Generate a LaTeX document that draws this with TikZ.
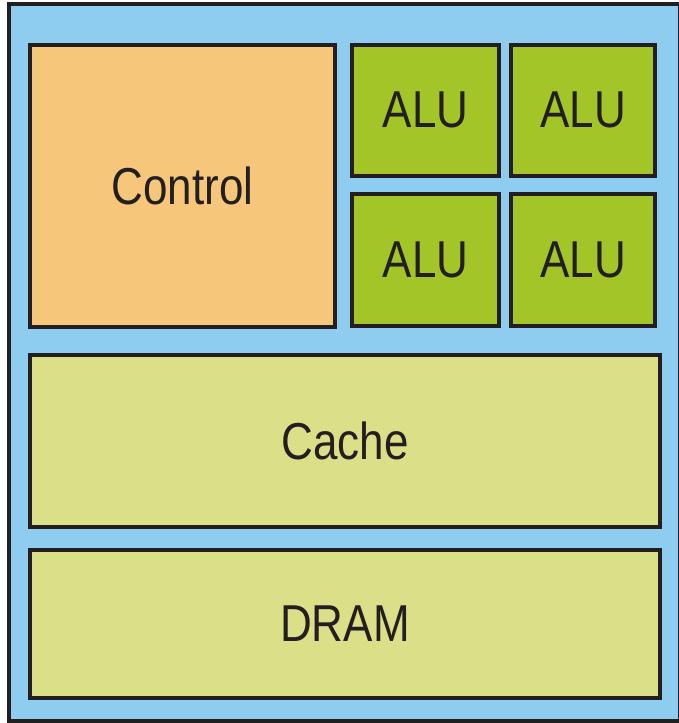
\documentclass[tikz,border=0pt]{standalone}
\usepackage{fontspec}
\setmainfont{Liberation Sans}
\definecolor{frameblue}{RGB}{142,205,240}
\definecolor{ctrlorange}{RGB}{246,199,122}
\definecolor{alugreen}{RGB}{164,197,40}
\definecolor{memyellow}{RGB}{219,223,135}
\definecolor{edgedark}{RGB}{35,31,32}
\tikzset{
  unitbox/.style={draw=edgedark, line width=4pt, inner sep=0pt, outer sep=0pt,
    font=\fontsize{44}{44}\selectfont, text=edgedark},
  frame/.style={draw=edgedark, line width=4pt, fill=frameblue, inner sep=0pt, outer sep=0pt}
}
\newcommand{\tallt}[1]{\scalebox{1}[1.18]{#1}}
\begin{document}
\begin{tikzpicture}[x=1pt,y=-1pt]
\useasboundingbox (0,0) rectangle (679,723);
\fill[white] (0,0) rectangle (679,723);
\begin{scope}
\clip (0,0) rectangle (679,723);
\node[frame, minimum width=671pt, minimum height=717pt] (outer) at (344.5,362.5) {};
\end{scope}
\node[unitbox, fill=ctrlorange, minimum width=305pt, minimum height=282pt] (control) at (182.5,186) {\tallt{Control}};
\node[unitbox, fill=alugreen, minimum width=147pt, minimum height=131pt] (alu1) at (425.5,110) {\tallt{ALU}};
\node[unitbox, fill=alugreen, minimum width=144pt, minimum height=131pt] (alu2) at (583,110) {\tallt{ALU}};
\node[unitbox, fill=alugreen, minimum width=147pt, minimum height=132pt] (alu3) at (425.5,260) {\tallt{ALU}};
\node[unitbox, fill=alugreen, minimum width=144pt, minimum height=132pt] (alu4) at (583,260) {\tallt{ALU}};
\node[unitbox, fill=memyellow, minimum width=630pt, minimum height=172pt] (cache) at (345,441) {\tallt{Cache}};
\node[unitbox, fill=memyellow, minimum width=630pt, minimum height=148pt] (dram) at (345,624) {\tallt{DRAM}};
\end{tikzpicture}
\end{document}
